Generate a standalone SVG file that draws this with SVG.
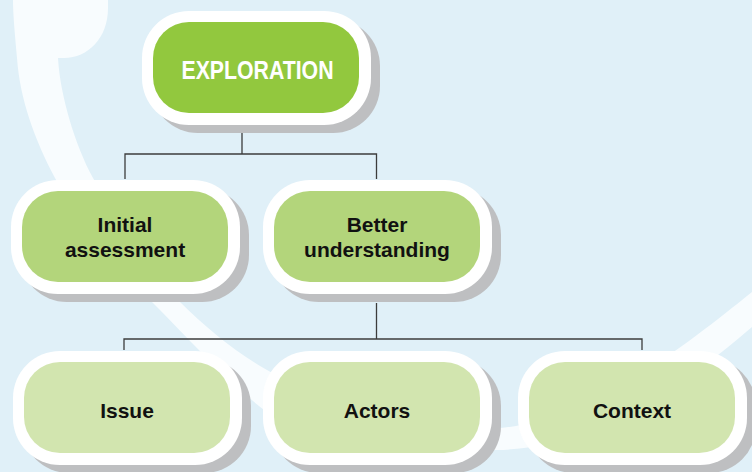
<svg xmlns="http://www.w3.org/2000/svg" width="752" height="472" viewBox="0 0 752 472">
  <defs>
    <style>
      .shadow { fill: #BEBFC1; }
      .outer { fill: #FFFFFF; }
      .top { fill: #92C83E; }
      .mid { fill: #B3D57B; }
      .low { fill: #D2E5AF; }
      .lbl { font-family: "Liberation Sans", Arial, sans-serif; font-weight: bold; font-size: 21px; fill: #111111; text-anchor: middle; }
      .title { font-family: "Liberation Sans", Arial, sans-serif; font-weight: bold; font-size: 26.5px; fill: #FFFFFF; text-anchor: middle; }
      .conn { fill: none; stroke: #3C3C3C; stroke-width: 1.3; }
    </style>
  </defs>

  <rect x="0" y="0" width="752" height="472" fill="#E0F0F8"/>

  <!-- background swoosh -->
  <path id="swoosh" fill="#F8FCFE" d="M 13,0 L 108,0 L 108,8 C 108,38 88,58 64,58 L 58,58
    C 60,95 75,145 93,178
    C 115,215 145,268 180,302
    C 205,327 235,352 267,370
    C 340,412 420,432 500,428
    C 590,420 680,350 752,292
    L 752,327
    C 690,380 600,448 497,450
    C 420,452 330,440 267,412
    C 230,385 190,340 152,302
    C 115,260 78,220 55,178
    C 35,140 20,100 17,58
    C 15,35 13,15 13,0 Z"/>

  <!-- connectors -->
  <g id="connectors">
    <path class="conn" d="M 242,133 V 154 M 125,179 V 154 H 376.5 V 179"/>
    <path class="conn" d="M 376.5,303 V 339 M 124,350 V 339 H 642 V 350"/>
  </g>

  <g id="exploration">
    <rect class="shadow" x="151" y="19" width="229" height="114" rx="47"/>
    <rect class="outer" x="142" y="11" width="229" height="114" rx="47"/>
    <rect class="top" x="153" y="22" width="206" height="91" rx="36"/>
    <text class="title" x="257.5" y="79" textLength="152" lengthAdjust="spacingAndGlyphs">EXPLORATION</text>
  </g>

  <g id="initial-assessment">
    <rect class="shadow" x="20" y="188" width="229" height="114" rx="47"/>
    <rect class="outer" x="11" y="180" width="229" height="114" rx="47"/>
    <rect class="mid" x="22" y="191" width="206" height="91" rx="36"/>
    <text class="lbl" x="125" y="232">Initial</text>
    <text class="lbl" x="125" y="257">assessment</text>
  </g>

  <g id="better-understanding">
    <rect class="shadow" x="272" y="188" width="229" height="114" rx="47"/>
    <rect class="outer" x="263" y="180" width="229" height="114" rx="47"/>
    <rect class="mid" x="274" y="191" width="206" height="91" rx="36"/>
    <text class="lbl" x="377" y="232">Better</text>
    <text class="lbl" x="377" y="257">understanding</text>
  </g>

  <g id="issue">
    <rect class="shadow" x="22" y="359" width="229" height="114" rx="47"/>
    <rect class="outer" x="13" y="351" width="229" height="114" rx="47"/>
    <rect class="low" x="24" y="362" width="206" height="91" rx="36"/>
    <text class="lbl" x="127" y="418">Issue</text>
  </g>

  <g id="actors">
    <rect class="shadow" x="272" y="359" width="229" height="114" rx="47"/>
    <rect class="outer" x="263" y="351" width="229" height="114" rx="47"/>
    <rect class="low" x="274" y="362" width="206" height="91" rx="36"/>
    <text class="lbl" x="377" y="418">Actors</text>
  </g>

  <g id="context">
    <rect class="shadow" x="527" y="359" width="229" height="114" rx="47"/>
    <rect class="outer" x="518" y="351" width="229" height="114" rx="47"/>
    <rect class="low" x="529" y="362" width="206" height="91" rx="36"/>
    <text class="lbl" x="632" y="418">Context</text>
  </g>
</svg>
